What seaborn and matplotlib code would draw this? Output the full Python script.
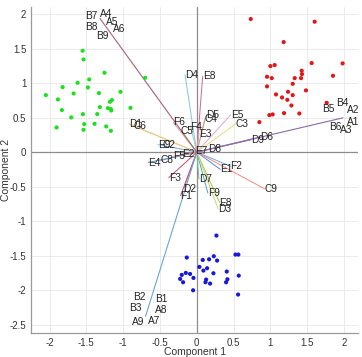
import matplotlib
matplotlib.use("Agg")
from matplotlib import pyplot as plt
from matplotlib.ticker import FormatStrFormatter
import seaborn as sns
import numpy as np
import pandas as pd

# scores
green_x = [-2.05, -1.886, -1.832, -1.823, -1.904, -1.705, -1.673, -1.619, -1.551, -1.538,
           -1.461, -1.479, -1.547, -1.529, -1.538, -1.389, -1.352, -1.330, -1.316, -1.253,
           -1.230, -1.167, -1.208, -1.180, -1.153, -1.167, -1.162, -1.036, -0.900, -0.701]
green_y = [0.826, 0.763, 0.609, 0.942, 0.358, 0.503, 0.850, 1.005, 1.469, 1.343,
           1.053, 0.937, 0.551, 0.406, 0.324, 0.411, 0.551, 0.855, 0.652, 1.150,
           0.372, 0.309, 0.638, 0.729, 0.754, 0.623, 0.604, 0.874, 0.642, 1.077]
red_x = [0.733, 1.601, 1.180, 1.981, 1.560, 1.000, 1.058, 1.425, 1.429, 1.850,
         0.954, 1.018, 1.330, 1.416, 1.303, 0.954, 1.483, 1.239, 1.076, 1.303,
         1.158, 1.230, 1.285, 1.764, 1.185, 1.393, 1.031, 0.986, 0.850]
red_y = [1.928, 1.889, 1.594, 1.285, 1.290, 1.246, 1.261, 1.179, 1.130, 1.106,
         1.092, 1.072, 1.072, 1.072, 0.990, 0.952, 0.894, 0.874, 0.836, 0.826,
         0.792, 0.758, 0.676, 0.715, 0.565, 0.560, 0.546, 0.536, 0.435]
blue_x = [0.267, -0.136, 0.081, 0.167, 0.231, 0.276, 0.036, 0.090, 0.140, 0.226,
          0.407, 0.525, 0.565, 0.570, -0.149, -0.091, -0.204, -0.226, -0.186, -0.045,
          0.127, 0.118, 0.181, 0.416, 0.398, -0.050, 0.561]
blue_y = [-1.208, -1.526, -1.561, -1.551, -1.507, -1.570, -1.662, -1.715, -1.681, -1.754,
          -1.729, -1.483, -1.483, -1.788, -1.749, -1.764, -1.778, -1.836, -1.884, -1.821,
          -1.845, -1.884, -1.903, -1.841, -1.884, -2.000, -2.062]

# loadings (line end points)
var_names = ["D4", "E8", "F6", "C5", "F4", "E3", "D5", "C4", "D1", "C6",
             "E9", "C2", "E4", "C8", "F5", "E2", "E7", "D8", "F3", "D7",
             "D2", "F1", "E5", "C3", "D9", "D6", "E1", "F2", "C9", "F9",
             "E8", "D3"]
var_x = [-0.16, 0.08, -0.32, -0.22, -0.085, 0.03, 0.13, 0.11, -0.92, -0.86,
         -0.53, -0.47, -0.66, -0.49, -0.32, -0.20, -0.02, 0.15, -0.38, 0.03,
         -0.18, -0.22, 0.46, 0.53, 0.74, 0.86, 0.32, 0.45, 0.92, 0.15,
         0.31, 0.29]
var_y = [1.12, 1.10, 0.43, 0.30, 0.37, 0.27, 0.54, 0.48, 0.41, 0.38,
         0.11, 0.10, -0.15, -0.12, -0.06, -0.03, 0.01, 0.04, -0.37, -0.39,
         -0.53, -0.63, 0.54, 0.41, 0.18, 0.22, -0.25, -0.20, -0.53, -0.59,
         -0.73, -0.82]
var_colors = ["#7fc4e0", "#d2668a", "#e29ab5", "#b9d27a", "#9bd3a8", "#c9a0d8", "#d3a0c8", "#c9a86a",
              "#f0c27e", "#e8c98a", "#8fc6e8", "#9ab7d9", "#5f8fb5", "#7c98c0", "#e0a080", "#d27a9a",
              "#8ab0d8", "#8a74b5", "#d24466", "#6cc08a", "#d66a8a", "#c8506e", "#e6a6c6", "#dfe27a",
              "#8a76b8", "#9a86c2", "#4e8fd6", "#6aa6e0", "#f08a7a", "#4ea0c8", "#a8c84a", "#c8d870"]

# the three bundles of overlapping loadings
grp_names = [["B7", "A4", "A5", "B8", "A6", "B9"],
             ["B2", "B1", "B3", "A8", "A9", "A7"],
             ["B4", "A2", "B5", "A1", "B6", "A3"]]
grp_end_x = [-1.316, -0.696, 1.985]
grp_end_y = [1.937, -2.377, 0.497]
grp_lab_x = [[-1.429, -1.235, -1.149, -1.429, -1.058, -1.28],
             [-0.787, -0.488, -0.832, -0.479, -0.80, -0.579],
             [1.977, 2.13, 1.787, 2.121, 1.882, 2.035]]
grp_lab_y = [[1.975, 2.005, 1.889, 1.816, 1.778, 1.681],
             [-2.091, -2.126, -2.261, -2.290, -2.459, -2.445],
             [0.706, 0.609, 0.628, 0.440, 0.362, 0.324]]
grp_colors = ["#a4607e", "#6aa6d8", "#8c6aa6"]

scores = pd.DataFrame({
    "c1": green_x + red_x + blue_x,
    "c2": green_y + red_y + blue_y,
    "grp": ["g"] * len(green_x) + ["r"] * len(red_x) + ["b"] * len(blue_x),
})

sns.set_style("white")
plt.rcParams["font.family"] = ["Liberation Sans", "DejaVu Sans"]

fig = plt.figure(figsize=(3.62, 3.57), dpi=100)
ax = fig.add_axes([0.086, 0.067, 0.903, 0.913])

ax.set_xlim(-2.25, 2.19)
ax.set_ylim(-2.62, 2.1)
ax.set_xticks(np.arange(-2, 2.01, 0.5))
ax.set_yticks(np.arange(-2.5, 2.01, 0.5))
ax.xaxis.set_major_formatter(FormatStrFormatter("%g"))
ax.yaxis.set_major_formatter(FormatStrFormatter("%g"))
ax.grid(True, color="#e8e8e8", lw=0.6)
ax.set_axisbelow(True)

ax.axhline(0, color="#8c8c8c", lw=0.9, zorder=1)
ax.axvline(0, color="#8c8c8c", lw=0.9, zorder=1)

for name, x, y, c in zip(var_names, var_x, var_y, var_colors):
    ax.plot([0, x], [0, y], color=c, lw=0.7, zorder=2)
    ax.text(x, y, name, fontsize=7.3, color="#222222", ha="left", va="center", zorder=4)

for names, ex, ey, lx, ly, c in zip(grp_names, grp_end_x, grp_end_y, grp_lab_x, grp_lab_y, grp_colors):
    ax.plot([0, ex], [0, ey], color=c, lw=0.8, zorder=2)
    for n, tx, ty in zip(names, lx, ly):
        ax.text(tx, ty, n, fontsize=7.3, color="#222222", ha="center", va="center", zorder=4)

sns.scatterplot(data=scores, x="c1", y="c2", hue="grp",
                palette={"g": "#1ee01e", "r": "#e01818", "b": "#1818d8"},
                s=9, linewidth=0, legend=False, ax=ax, zorder=3)

ax.set_xlabel("Component 1", fontsize=7.5, color="#333333")
ax.set_ylabel("Component 2", fontsize=7.5, color="#333333")
ax.xaxis.set_label_coords(0.5, -0.042)
ax.yaxis.set_label_coords(-0.062, 0.5)
ax.tick_params(direction="in", length=3, width=0.6, color="#8c8c8c",
               labelsize=7, labelcolor="#333333", pad=3.5)
for side in ["top", "right"]:
    ax.spines[side].set_visible(False)
for side in ["left", "bottom"]:
    ax.spines[side].set_color("#9a9a9a")
    ax.spines[side].set_linewidth(0.9)

fig.savefig("out.png", dpi=100)
